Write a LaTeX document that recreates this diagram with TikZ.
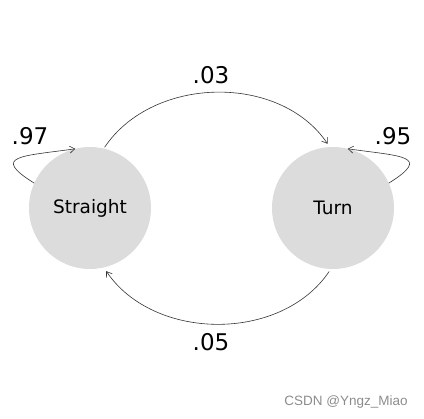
\documentclass[tikz,border=0pt]{standalone}
\usepackage{fontspec}
\setmainfont{DejaVu Sans}
\newfontfamily\markfont{Liberation Sans}
\usetikzlibrary{arrows.meta}
\definecolor{stategray}{HTML}{DCDCDC}
\tikzset{
	statecircle/.style={circle, fill=stategray, minimum size=122pt, inner sep=0pt, outer sep=0pt, font=\fontsize{18.5}{22}\selectfont},
	problabel/.style={font=\fontsize{23}{27}\selectfont},
	link/.style={draw=black!80, line width=0.6pt, -{Straight Barb[length=5pt,width=7pt]}}
}

\begin{document}
\begin{tikzpicture}[x=1pt, y=1pt]
			%%%%% START %%%%%
			
			\useasboundingbox (0, 0) rectangle (424, -419);
			
			\node[statecircle] (straight) at (90, -208) {Straight};
			\node[statecircle] (turn) at (333, -208) {Turn};
			
			\node[problabel] (p03) at (211, -75) {.03};
			\node[problabel] (p05) at (211, -342) {.05};
			\node[problabel] (p97) at (30, -136) {.97};
			\node[problabel] (p95) at (393, -136) {.95};
			
			\draw[link, shorten <=1.5pt, shorten >=4pt] (straight.77) to[out=56, in=124] (turn.93);
			\draw[link, shorten <=3pt, shorten >=4.5pt] (turn.-92) to[out=-124, in=-56] (straight.-77);
			
			\draw[link] (straight.156) .. controls +(148:52) and +(188:54) .. (straight.104);
			\draw[link] (turn.24) .. controls +(32:52) and +(-8:54) .. (turn.76);
			
			\node[font=\markfont\fontsize{13.5}{16}\selectfont, text=black!45] (mark) at (346, -402) {CSDN @Yngz\_Miao};
			
			%%%%% END %%%%%
\end{tikzpicture}
\end{document}
